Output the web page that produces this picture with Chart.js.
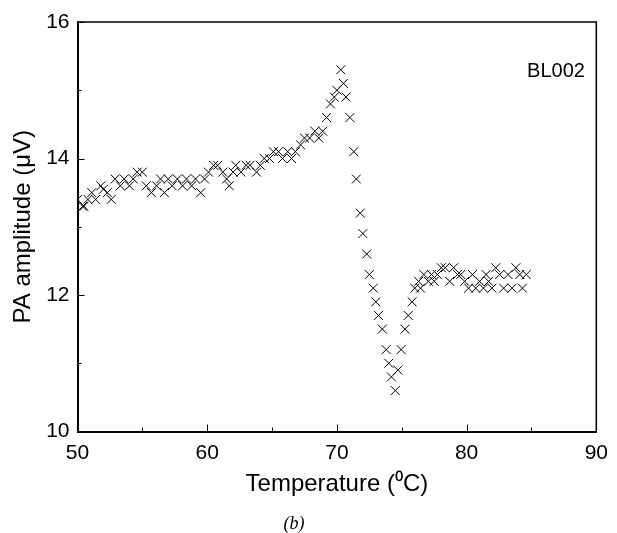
<!DOCTYPE html>
<html>
<head>
<meta charset="utf-8">
<script src="https://cdn.jsdelivr.net/npm/chart.js@4/dist/chart.umd.min.js"></script>
<style>
  html, body { margin: 0; padding: 0; background: #fff; }
  #wrap { width: 617px; height: 533px; }
</style>
</head>
<body>
<div id="wrap"><canvas id="grafico" width="617" height="533"></canvas></div>
<script>
// temperatura (C) y amplitud PA (uV)
const temperatura = [
  50.0, 50.4, 50.5, 50.8, 51.1, 51.4, 51.8, 52.0, 52.3, 52.6,
  52.9, 53.3, 53.6, 54.0, 54.3, 54.6, 55.0, 55.3, 55.7, 56.1,
  56.4, 56.7, 57.0, 57.3, 57.7, 58.1, 58.4, 58.8, 59.1, 59.5,
  59.8, 60.1, 60.5, 60.8, 61.2, 61.5, 61.7, 62.0, 62.2, 62.6,
  63.0, 63.3, 63.8, 64.1, 64.4, 64.8, 65.1, 65.5, 65.8, 66.2,
  66.5, 66.8, 67.2, 67.5, 67.9, 68.3, 68.6, 68.9, 69.2, 69.5,
  69.8, 70.0, 70.3, 70.5, 70.7, 71.0, 71.3, 71.5, 71.8, 72.0,
  72.3, 72.5, 72.8, 73.0, 73.2, 73.5, 73.8, 74.0, 74.2, 74.5,
  74.7, 74.95, 75.25, 75.5, 75.8, 76.0, 76.3, 76.45, 76.7, 77.05,
  77.3, 77.5, 77.75, 78.05, 78.35, 78.7, 79.0, 79.3, 79.55, 79.85,
  80.15, 80.45, 80.7, 81.0, 81.3, 81.5, 81.7, 81.95, 82.25, 82.55,
  82.85, 83.2, 83.5, 83.8, 84.1, 84.3, 84.6
];
const amplitud = [
  13.4, 13.3, 13.3, 13.4, 13.5, 13.4, 13.6, 13.55, 13.5, 13.4,
  13.7, 13.6, 13.7, 13.6, 13.7, 13.8, 13.8, 13.6, 13.5, 13.6,
  13.7, 13.5, 13.7, 13.6, 13.7, 13.6, 13.7, 13.6, 13.7, 13.5,
  13.7, 13.8, 13.9, 13.9, 13.8, 13.7, 13.6, 13.8, 13.9, 13.8,
  13.9, 13.9, 13.8, 13.9, 14.0, 14.0, 14.1, 14.1, 14.0, 14.1,
  14.0, 14.1, 14.2, 14.3, 14.3, 14.4, 14.3, 14.4, 14.6, 14.8,
  14.9, 15.0, 15.3, 15.1, 14.9, 14.6, 14.1, 13.7, 13.2, 12.9,
  12.6, 12.3, 12.1, 11.9, 11.7, 11.5, 11.2, 11.0, 10.8, 10.6,
  10.9, 11.2, 11.5, 11.7, 11.9, 12.1, 12.2, 12.1, 12.3, 12.2,
  12.3, 12.2, 12.3, 12.4, 12.4, 12.2, 12.4, 12.3, 12.3, 12.2,
  12.1, 12.3, 12.1, 12.2, 12.1, 12.3, 12.2, 12.1, 12.4, 12.3,
  12.1, 12.3, 12.1, 12.4, 12.3, 12.1, 12.3
];
const ticksX = [50, 60, 70, 80, 90];
const ticksY = [10, 12, 14, 16];
const menoresX = [55, 65, 75, 85];
const menoresY = [11, 13, 15];

const puntos = temperatura.map((t, i) => ({ x: t, y: amplitud[i] }));

// marco y marcas hacia adentro, mas los textos sueltos
const marcoPlugin = {
    id: 'marco',
    afterDatasetsDraw(chart) {
        const { ctx, chartArea: a, scales } = chart;
        ctx.save();
        ctx.strokeStyle = '#000';
        ctx.lineWidth = 1.5;
        ctx.beginPath();
        ctx.moveTo(a.left, a.top);
        ctx.lineTo(a.right, a.top);
        ctx.lineTo(a.right, a.bottom);
        ctx.stroke();

        ctx.lineWidth = 1;
        ctx.beginPath();
        ticksX.concat(menoresX).forEach(v => {
            const px = Math.round(scales.x.getPixelForValue(v)) + 0.5;
            const len = ticksX.includes(v) ? 7 : 4;
            ctx.moveTo(px, a.bottom);
            ctx.lineTo(px, a.bottom - len);
        });
        ticksY.concat(menoresY).forEach(v => {
            const py = Math.round(scales.y.getPixelForValue(v)) + 0.5;
            const len = ticksY.includes(v) ? 7 : 4;
            ctx.moveTo(a.left, py);
            ctx.lineTo(a.left + len, py);
        });
        ctx.stroke();

        ctx.fillStyle = '#000';
        ctx.textBaseline = 'middle';
        ctx.textAlign = 'center';
        ctx.font = '20px "Liberation Sans", Arial, sans-serif';
        ctx.fillText('BL002', 556, 71);
        ctx.font = 'italic 18px "Liberation Serif", "Times New Roman", serif';
        ctx.fillText('(b)', 294, 524);
        ctx.restore();
    }
};

const ctx = document.getElementById('grafico').getContext('2d');
const grafico = new Chart(ctx, {
    type: 'scatter',
    data: {
        datasets: [{
            label: 'BL002',
            data: puntos,
            pointStyle: 'crossRot',
            pointRadius: 6.3,
            pointBorderWidth: 1,
            borderColor: '#000',
            backgroundColor: '#000'
        }]
    },
    options: {
        responsive: false,
        animation: false,
        layout: { padding: { left: 0, top: 22, right: 16, bottom: 0 } },
        plugins: {
            legend: { display: false },
            tooltip: { enabled: false }
        },
        scales: {
            x: {
                type: 'linear',
                min: 50,
                max: 90,
                afterFit: s => { s.height = 101.5; },
                afterBuildTicks: s => { s.ticks = ticksX.map(v => ({ value: v })); },
                grid: { display: false, drawTicks: false },
                border: { display: true, color: '#000', width: 2 },
                ticks: {
                    color: '#000',
                    padding: 9,
                    font: { family: '"Liberation Sans", Arial, sans-serif', size: 21 }
                },
                title: {
                    display: true,
                    text: 'Temperature (⁰C)',
                    color: '#000',
                    padding: { top: 0, bottom: 34 },
                    font: { family: '"Liberation Sans", Arial, sans-serif', size: 24 }
                }
            },
            y: {
                type: 'linear',
                min: 10,
                max: 16,
                afterFit: s => { s.width = 77.5; },
                afterBuildTicks: s => { s.ticks = ticksY.map(v => ({ value: v })); },
                grid: { display: false, drawTicks: false },
                border: { display: true, color: '#000', width: 2 },
                ticks: {
                    color: '#000',
                    padding: 8,
                    font: { family: '"Liberation Sans", Arial, sans-serif', size: 21 }
                },
                title: {
                    display: true,
                    text: 'PA amplitude (μV)',
                    color: '#000',
                    padding: { top: 9, bottom: 0 },
                    font: { family: '"Liberation Sans", Arial, sans-serif', size: 24 }
                }
            }
        }
    },
    plugins: [marcoPlugin]
});
</script>
</body>
</html>
